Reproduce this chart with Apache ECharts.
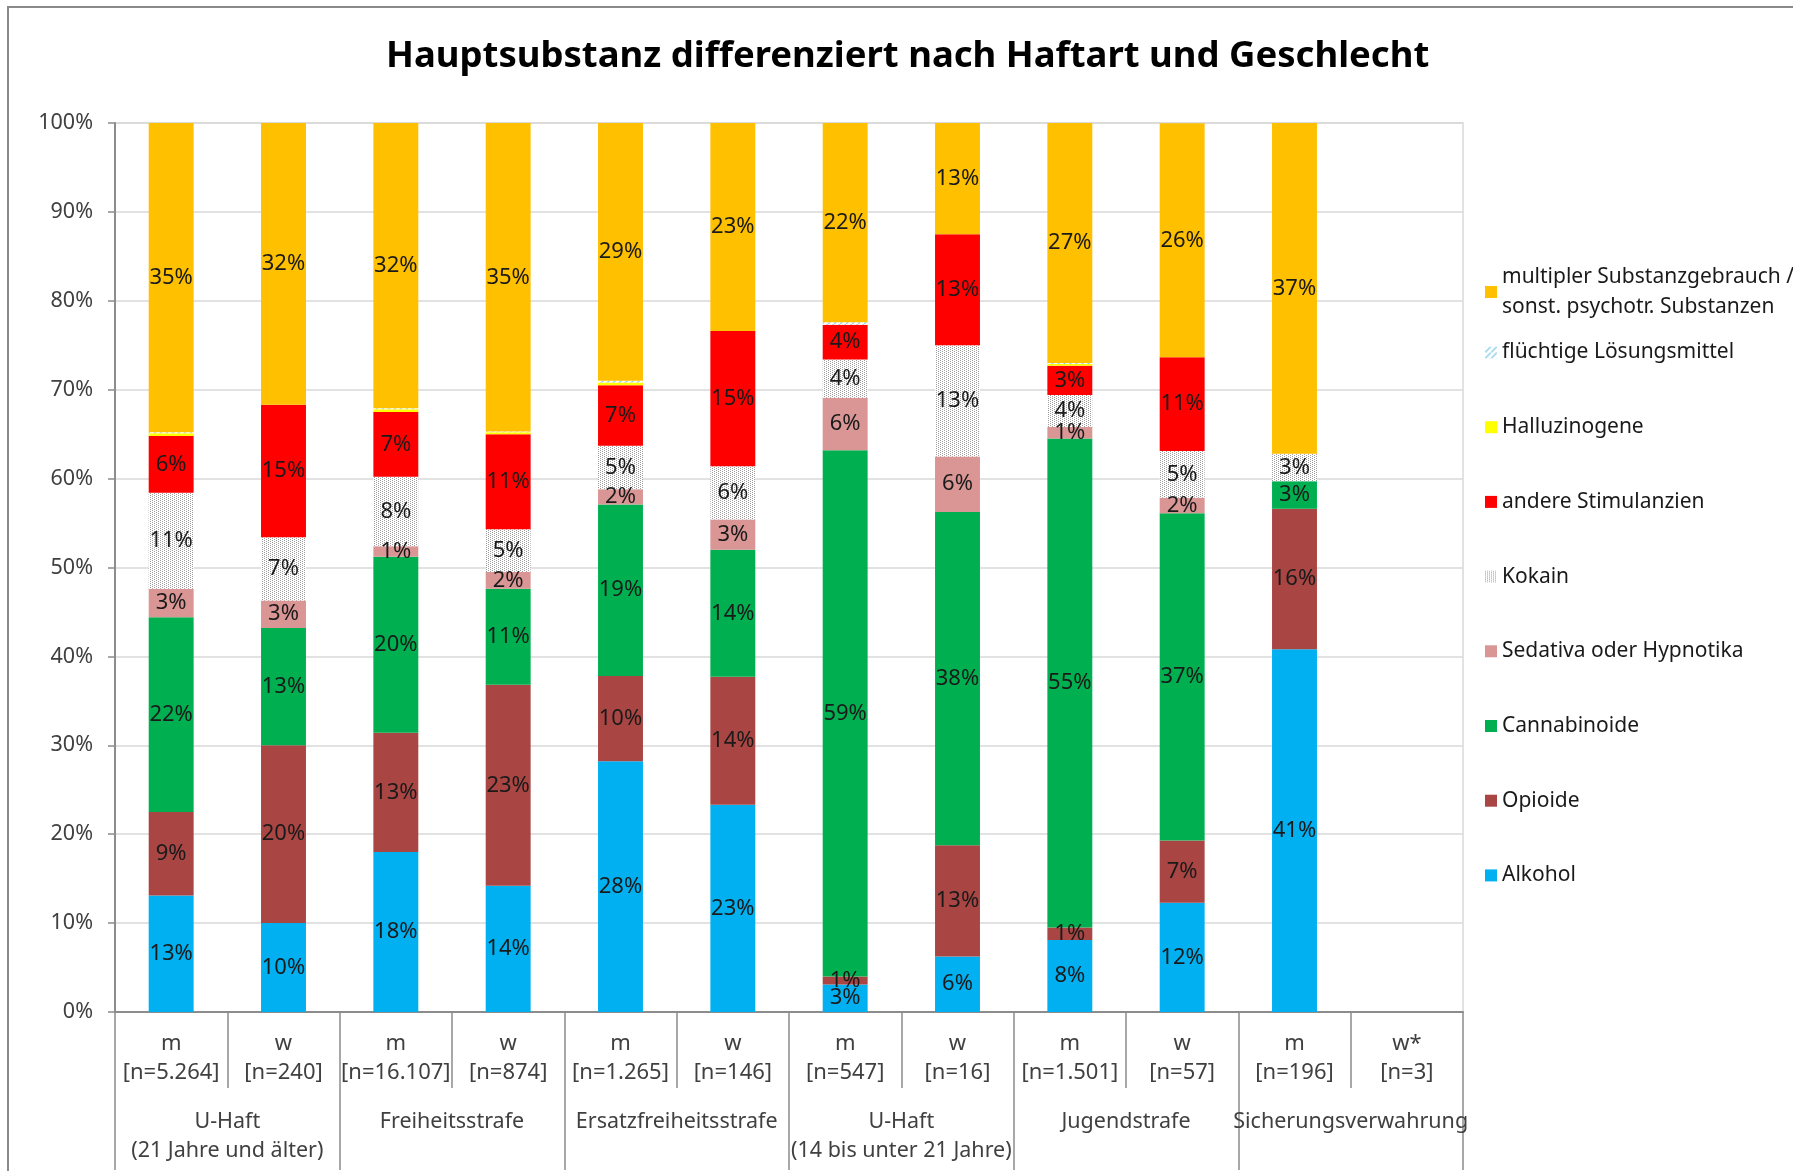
<!DOCTYPE html>
<html>
<head>
<meta charset="utf-8">
<script src="https://cdn.jsdelivr.net/npm/echarts@6/dist/echarts.min.js"></script>
<style>
  html, body {margin: 0; padding: 0; background: #fff;}
  #chart {width: 1793px; height: 1171px;}
</style>
</head>
<body>
<div id="chart"></div>
<script>
const categories = ['m\n[n=5.264]', 'w\n[n=240]', 'm\n[n=16.107]', 'w\n[n=874]', 'm\n[n=1.265]', 'w\n[n=146]',
  'm\n[n=547]', 'w\n[n=16]', 'm\n[n=1.501]', 'w\n[n=57]', 'm\n[n=196]', 'w*\n[n=3]'];
const groups = ['U-Haft\n(21 Jahre und älter)', 'Freiheitsstrafe', 'Ersatzfreiheitsstrafe',
  'U-Haft\n(14 bis unter 21 Jahre)', 'Jugendstrafe', 'Sicherungsverwahrung'];
const yTicks = [0, 10, 20, 30, 40, 50, 60, 70, 80, 90, 100];

const alkohol = [13.1, 10.0, 18.0, 14.2, 28.2, 23.3, 3.1, 6.25, 8.1, 12.3, 40.8, null];
const opioide = [9.4, 20.0, 13.4, 22.6, 9.6, 14.4, 0.9, 12.5, 1.4, 7.0, 15.8, null];
const cannabinoide = [21.9, 13.2, 19.8, 10.8, 19.3, 14.3, 59.2, 37.5, 55.0, 36.8, 3.1, null];
const sedativa = [3.2, 3.1, 1.2, 1.9, 1.7, 3.4, 5.9, 6.25, 1.3, 1.75, 0, null];
const kokain = [10.8, 7.1, 7.8, 4.8, 4.9, 6.0, 4.3, 12.5, 3.6, 5.26, 3.1, null];
const stimulanzien = [6.4, 14.9, 7.3, 10.7, 6.8, 15.2, 3.9, 12.5, 3.3, 10.53, 0, null];
const halluzinogene = [0.3, 0, 0.3, 0.2, 0.3, 0, 0, 0, 0.2, 0, 0, null];
const fluechtig = [0.1, 0, 0.1, 0.1, 0.2, 0, 0.3, 0, 0.1, 0, 0, null];
const multipel = [34.8, 31.7, 32.1, 34.7, 29.0, 23.4, 22.4, 12.5, 27.0, 26.32, 37.2, null];

const font = 'Noto Sans';
const textColor = '#404040';
const axisGray = '#8c8c8c';

// stipple pattern for Kokain
function dotPattern() {
  const c = document.createElement('canvas');
  c.width = 4; c.height = 4;
  const ctx = c.getContext('2d');
  ctx.fillStyle = '#ffffff';
  ctx.fillRect(0, 0, 4, 4);
  ctx.fillStyle = '#9c9c9c';
  ctx.fillRect(0, 0, 1, 1);
  ctx.fillRect(2, 1, 1, 1);
  ctx.fillRect(0, 2, 1, 1);
  ctx.fillRect(2, 3, 1, 1);
  return {image: c, repeat: 'repeat'};
}

// hatch pattern for flüchtige Lösungsmittel
function hatchPattern() {
  const c = document.createElement('canvas');
  c.width = 6; c.height = 6;
  const ctx = c.getContext('2d');
  ctx.fillStyle = '#ffffff';
  ctx.fillRect(0, 0, 6, 6);
  ctx.strokeStyle = '#8fd0ee';
  ctx.lineWidth = 1.5;
  ctx.beginPath();
  ctx.moveTo(0, 6); ctx.lineTo(6, 0);
  ctx.stroke();
  return {image: c, repeat: 'repeat'};
}

const seriesDefs = [
  {name: 'Alkohol', data: alkohol, color: '#00B0F0'},
  {name: 'Opioide', data: opioide, color: '#A94644'},
  {name: 'Cannabinoide', data: cannabinoide, color: '#00B050'},
  {name: 'Sedativa oder Hypnotika', data: sedativa, color: '#D99694'},
  {name: 'Kokain', data: kokain, color: dotPattern()},
  {name: 'andere Stimulanzien', data: stimulanzien, color: '#FF0000'},
  {name: 'Halluzinogene', data: halluzinogene, color: '#FFFF00'},
  {name: 'flüchtige Lösungsmittel', data: fluechtig, color: hatchPattern()},
  {name: 'multipler Substanzgebrauch / sonst. psychotr. Substanzen', data: multipel, color: '#FFC000'}
];

const series = seriesDefs.map(s => ({
  name: s.name,
  type: 'bar',
  stack: 'total',
  barWidth: '40%',
  data: s.data,
  itemStyle: {color: s.color},
  label: {
    show: true,
    position: 'inside',
    fontFamily: font,
    fontSize: 22,
    color: '#1a1a1a',
    formatter: p => (p.value != null && p.value >= 0.5) ? Math.round(p.value) + '%' : ''
  },
  emphasis: {disabled: true}
}));

const legendNames = seriesDefs.map(s => s.name).reverse();

const chart = echarts.init(document.getElementById('chart'));
const option = {
  animation: false,
  backgroundColor: '#fff',
  title: {
    text: 'Hauptsubstanz differenziert nach Haftart und Geschlecht',
    left: 386,
    top: 38,
    padding: 0,
    textStyle: {fontFamily: font, fontSize: 36.5, fontWeight: 'bold', color: '#000'}
  },
  graphic: [{
    type: 'rect',
    shape: {x: 8, y: 7, width: 1830, height: 1220},
    style: {fill: 'none', stroke: '#8a8a8a', lineWidth: 2},
    silent: true
  }],
  legend: [
    {
      data: [legendNames[0]],
      orient: 'vertical',
      left: 1480,
      top: 257,
      icon: 'rect',
      itemWidth: 12,
      itemHeight: 12,
      selectedMode: false,
      formatter: () => 'multipler Substanzgebrauch /\nsonst. psychotr. Substanzen',
      textStyle: {fontFamily: font, fontSize: 21, lineHeight: 30, color: '#1a1a1a'}
    },
    {
      data: legendNames.slice(1),
      orient: 'vertical',
      left: 1480,
      top: 335.5,
      icon: 'rect',
      itemWidth: 12,
      itemHeight: 12,
      itemGap: 50.7,
      selectedMode: false,
      textStyle: {fontFamily: font, fontSize: 21, lineHeight: 24, color: '#1a1a1a'}
    }
  ],
  grid: {
    left: 115,
    right: 330,
    top: 123,
    bottom: 159,
    show: true,
    borderColor: '#d9d9d9',
    borderWidth: 1.5
  },
  xAxis: [
    {
      type: 'category',
      data: categories,
      axisLine: {show: true, lineStyle: {color: axisGray, width: 2}},
      axisTick: {show: true, length: 76, lineStyle: {color: axisGray, width: 1.5}},
      axisLabel: {
        interval: 0,
        margin: 17,
        fontFamily: font,
        fontSize: 22,
        lineHeight: 29,
        color: textColor
      }
    },
    {
      type: 'category',
      data: groups,
      position: 'bottom',
      axisLine: {show: false},
      axisTick: {show: true, length: 158, lineStyle: {color: axisGray, width: 1.5}},
      axisLabel: {
        interval: 0,
        margin: 95,
        fontFamily: font,
        fontSize: 21.5,
        lineHeight: 29,
        color: textColor
      }
    }
  ],
  yAxis: {
    type: 'value',
    min: yTicks[0],
    max: yTicks[yTicks.length - 1],
    interval: 10,
    axisLine: {show: true, lineStyle: {color: axisGray, width: 2}},
    axisTick: {show: true, length: 7, lineStyle: {color: axisGray, width: 1.5}},
    axisLabel: {
      margin: 22,
      fontFamily: font,
      fontSize: 21.5,
      color: textColor,
      formatter: '{value}%'
    },
    splitLine: {show: true, lineStyle: {color: '#d9d9d9', width: 1.5}}
  },
  series: series
};
chart.setOption(option);
</script>
</body>
</html>
